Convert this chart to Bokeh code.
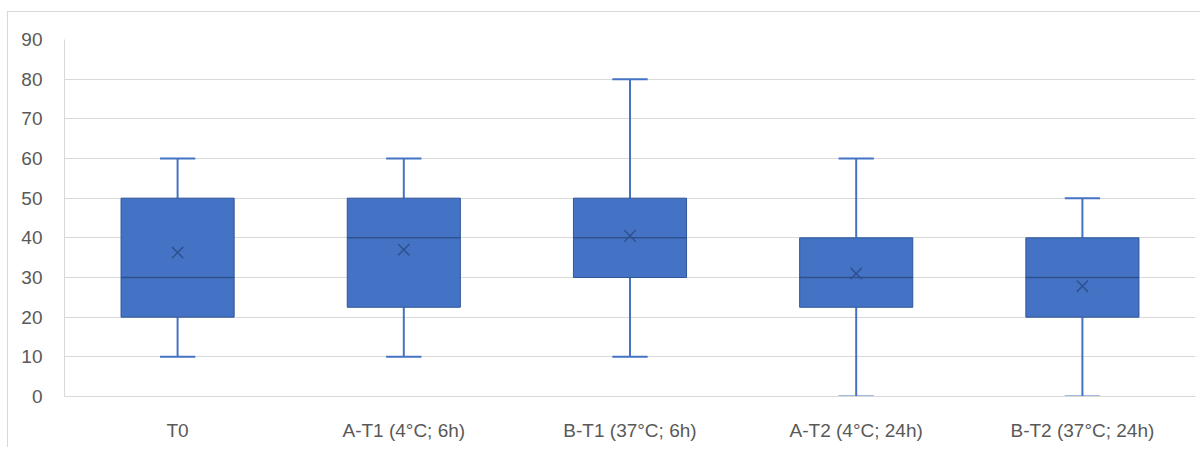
from bokeh.plotting import figure
from bokeh.models import ColumnDataSource, FactorRange, FixedTicker
from bokeh.transform import dodge
from bokeh.embed import file_html
from bokeh.resources import INLINE

categories = ["T0", "A-T1 (4°C; 6h)", "B-T1 (37°C; 6h)", "A-T2 (4°C; 24h)", "B-T2 (37°C; 24h)"]
lower = [10, 10, 10, 0, 0]
q1 = [20, 22.5, 30, 22.5, 20]
median = [30, 40, 40, 30, 30]
q3 = [50, 50, 50, 40, 40]
upper = [60, 60, 80, 60, 50]
mean = [36.3, 37.0, 40.5, 31.0, 27.8]

src = ColumnDataSource(dict(cat=categories, lower=lower, q1=q1, median=median,
                            q3=q3, upper=upper, mean=mean))

FILL = "#4472C4"
EDGE = "#2F5597"
DARK = "#2F528F"
GRID = "#D9D9D9"
TXT = "#595959"
FONT = "Liberation Sans"

p = figure(width=1193, height=436, x_range=FactorRange(factors=categories, range_padding=0),
           y_range=(0, 90), output_backend="svg", toolbar_location=None,
           min_border_left=56, min_border_right=6, min_border_top=27, min_border_bottom=52)
p.styles = {"border-top": f"1px solid {GRID}", "border-left": f"1px solid {GRID}",
            "margin-top": "11px", "margin-left": "7px"}
p.outline_line_color = None
p.background_fill_color = "white"

# whiskers
p.segment(x0="cat", x1="cat", y0="q3", y1="upper", source=src, line_color=FILL, line_width=2)
p.segment(x0="cat", x1="cat", y0="lower", y1="q1", source=src, line_color=FILL, line_width=2)
# caps
p.segment(x0=dodge("cat", -0.078, range=p.x_range), x1=dodge("cat", 0.078, range=p.x_range),
          y0="upper", y1="upper", source=src, line_color=FILL, line_width=2)
p.segment(x0=dodge("cat", -0.078, range=p.x_range), x1=dodge("cat", 0.078, range=p.x_range),
          y0="lower", y1="lower", source=src, line_color=FILL, line_width=2)
# boxes
p.vbar(x="cat", width=0.5, bottom="q1", top="q3", source=src, fill_color=FILL,
       line_color=EDGE, line_width=1)
# median
p.segment(x0=dodge("cat", -0.25, range=p.x_range), x1=dodge("cat", 0.25, range=p.x_range),
          y0="median", y1="median", source=src, line_color=DARK, line_width=1.5)
# mean
p.scatter(x="cat", y="mean", source=src, marker="x", size=16, line_color=DARK, line_width=1.5)

p.yaxis.ticker = FixedTicker(ticks=list(range(0, 91, 10)))
p.ygrid.ticker = FixedTicker(ticks=list(range(10, 91, 10)))
p.xgrid.grid_line_color = None
p.ygrid.grid_line_color = GRID
p.ygrid.grid_line_width = 1
p.ygrid.level = "underlay"

for ax in (p.xaxis, p.yaxis):
    ax.major_tick_line_color = None
    ax.minor_tick_line_color = None
    ax.major_label_text_color = TXT
    ax.major_label_text_font = FONT
    ax.major_label_text_font_size = "19px"
    ax.axis_line_color = GRID
p.yaxis.major_label_standoff = 16
p.xaxis.major_label_standoff = 17

open("out.html", "w").write(file_html(p, INLINE))
